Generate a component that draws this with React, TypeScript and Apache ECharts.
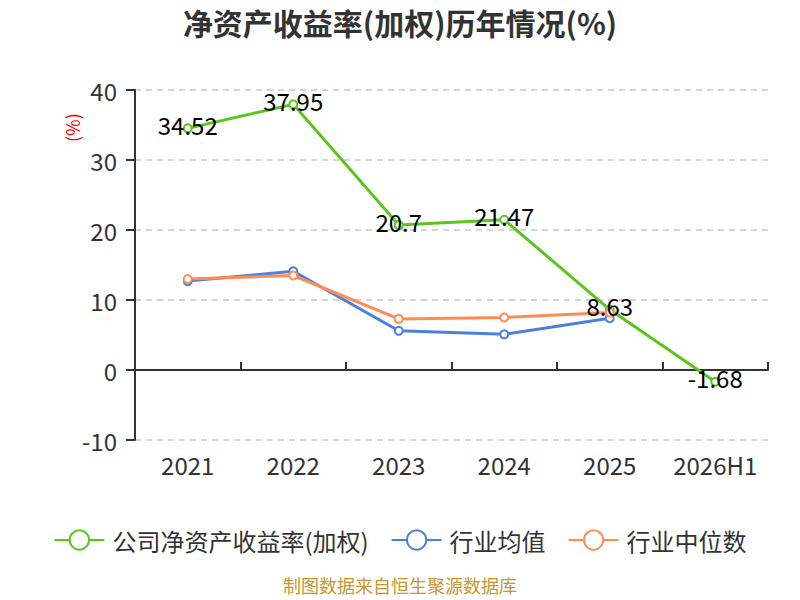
import React, { useEffect, useRef } from "react";
import * as echarts from "echarts";

const categories = ["2021", "2022", "2023", "2024", "2025", "2026H1"];
const companyRoe = [34.52, 37.95, 20.7, 21.47, 8.63, -1.68];
const industryAvg = [12.7, 14.1, 5.6, 5.1, 7.4, null];
const industryMedian = [13.0, 13.5, 7.3, 7.5, 8.2, null];
const seriesNames = ["公司净资产收益率(加权)", "行业均值", "行业中位数"];
const yTicks = { min: -10, max: 40, interval: 10 };

const FONT = "Noto Sans CJK SC";

export default function App() {
  const ref = useRef<HTMLDivElement>(null);
  useEffect(() => {
    if (!ref.current) return;
    const chart = echarts.init(ref.current, undefined, { renderer: "svg" });
    chart.setOption({
      animation: false,
      textStyle: { fontFamily: FONT },
      title: {
        text: "净资产收益率(加权)历年情况(%)",
        left: "center",
        top: 2,
        textStyle: { fontSize: 30, fontWeight: "bold", color: "#333", fontFamily: FONT },
      },
      graphic: [
        {
          type: "text",
          x: 63,
          y: 142,
          rotation: Math.PI / 2,
          style: { text: "(%)", fill: "#ff0000", fontSize: 18, fontFamily: FONT },
        },
        {
          type: "text",
          left: "center",
          top: 576,
          style: { text: "制图数据来自恒生聚源数据库", fill: "#c8962e", fontSize: 18, fontFamily: FONT },
        },
      ],
      legend: {
        top: 523,
        left: "center",
        itemWidth: 50,
        itemHeight: 24,
        itemGap: 22,
        textStyle: { fontSize: 24, color: "#333", fontFamily: FONT, padding: [0, 0, 0, 3] },
        data: seriesNames,
      },
      grid: { left: 135, right: 32, top: 90, bottom: 160, containLabel: false },
      xAxis: [
        {
          type: "category",
          data: categories,
          position: "bottom",
          axisLine: { show: false, onZero: false },
          axisTick: { show: false },
          axisLabel: { fontSize: 24, color: "#333", margin: 12, interval: 0, fontFamily: FONT },
        },
        {
          type: "category",
          data: categories,
          axisLine: { show: true, onZero: true, lineStyle: { color: "#333", width: 2 } },
          axisTick: { show: true, length: 8, lineStyle: { color: "#333", width: 2 } },
          axisLabel: { show: false },
        },
      ],
      yAxis: {
        type: "value",
        min: yTicks.min,
        max: yTicks.max,
        interval: yTicks.interval,
        axisLine: { show: true, lineStyle: { color: "#333", width: 2 } },
        axisTick: { show: true, length: 9, lineStyle: { color: "#333", width: 2 } },
        axisLabel: { fontSize: 24, color: "#333", margin: 18, fontFamily: FONT },
        splitLine: { lineStyle: { type: [6, 5], color: "#c8c8c8", width: 1.5 } },
      },
      series: [
        {
          name: seriesNames[0],
          type: "line",
          data: companyRoe,
          symbol: "emptyCircle",
          symbolSize: 8,
          z: 3,
          lineStyle: { width: 3, color: "#5bc41f" },
          itemStyle: { color: "#5bc41f" },
          label: {
            show: true,
            position: "inside",
            offset: [0, -4],
            fontSize: 24,
            color: "#000",
            fontFamily: FONT,
          },
        },
        {
          name: seriesNames[1],
          type: "line",
          data: industryAvg,
          symbol: "emptyCircle",
          symbolSize: 8,
          lineStyle: { width: 3, color: "#4d7fe0" },
          itemStyle: { color: "#4d7fe0" },
        },
        {
          name: seriesNames[2],
          type: "line",
          data: industryMedian,
          symbol: "emptyCircle",
          symbolSize: 8,
          lineStyle: { width: 3, color: "#ff8c55" },
          itemStyle: { color: "#ff8c55" },
        },
      ],
    });
    return () => chart.dispose();
  }, []);
  return <div ref={ref} style={{ width: 800, height: 600, marginLeft: -8, marginTop: -8 }} />;
}
